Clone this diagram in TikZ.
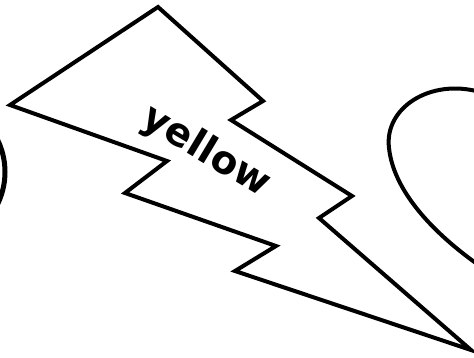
\documentclass[tikz,border=0pt]{standalone}
\usepackage{fontspec}
\newfontfamily\labelfont{DejaVu Sans}
\begin{document}
\begin{tikzpicture}[x=1pt,y=-1pt,
  outline/.style={draw=black,line width=4pt,line join=miter},
  lbl/.style={font=\labelfont\bfseries\fontsize{39}{42}\selectfont,inner sep=0pt}]
\useasboundingbox (0,0) rectangle (474,357);
\begin{scope}
\clip (0,0) rectangle (474,357);
% left circle (mostly off-page)
\draw[outline,line width=5pt] (-68,172) circle (73);
% right loop
\draw[outline] (480,92) .. controls (430,78) and (384,108) .. (389,148)
  .. controls (394,195) and (440,238) .. (480,266);
% lightning bolt
\draw[outline] (158,7) -- (263,101) -- (231,120) -- (352,196) -- (319,218)
  -- (471,350) -- (235,271) -- (276,246) -- (125,193) -- (167,161)
  -- (10,105) -- cycle;
\end{scope}
\node[lbl,rotate=-31] (label) at (206,152) {yellow};
\end{tikzpicture}
\end{document}
